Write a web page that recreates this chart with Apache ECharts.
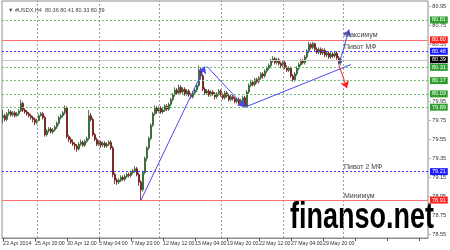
<!DOCTYPE html>
<html><head><meta charset="utf-8">
<script src="https://cdn.jsdelivr.net/npm/echarts@6/dist/echarts.min.js"></script>
<style>html,body{margin:0;padding:0;background:#fff}#c{width:450px;height:250px}</style>
</head><body><div id="c"></div>
<script>
// ---- data ----
const timeLabels = ['23 Apr 2014','25 Apr 20:00','30 Apr 12:00','5 May 04:00','7 May 20:00','12 May 12:00','15 May 04:00','19 May 20:00','22 May 12:00','27 May 04:00','29 May 20:00'];
const opens = [
79.78,79.80,79.76,79.82,79.84,79.81,79.83,79.80,79.82,79.85,
79.93,79.86,79.84,79.82,79.80,79.78,79.76,79.73,79.75,79.80,
79.82,79.78,79.60,79.64,79.66,79.63,79.65,79.68,79.72,79.78,
79.80,79.83,79.88,79.58,79.55,79.52,79.50,79.48,79.45,79.50,
79.52,79.49,79.53,79.56,79.80,79.76,79.60,79.55,79.50,79.52,
79.49,79.51,79.48,79.50,79.52,79.46,79.18,79.12,79.10,79.12,
79.15,79.13,79.16,79.18,79.17,79.20,79.22,79.24,79.18,79.10,
79.02,79.20,79.35,79.46,79.56,79.70,79.82,79.88,79.85,79.88,
79.84,79.86,79.90,79.87,79.92,79.97,80.02,80.07,80.04,80.10,
80.05,80.08,80.03,80.06,80.02,80.00,80.04,80.07,80.12,80.28,
80.22,80.08,80.04,80.06,80.02,80.05,80.03,80.00,80.03,80.06,
80.02,79.99,80.04,80.01,79.97,80.00,79.98,79.95,79.97,79.93,
79.96,79.99,79.90,80.05,80.12,80.15,80.13,80.18,80.16,80.20,
80.24,80.22,80.27,80.30,80.33,80.38,80.40,80.36,80.39,80.35,
80.33,80.36,80.31,80.28,80.30,80.22,80.18,80.24,80.30,80.34,
80.38,80.36,80.42,80.48,80.55,80.52,80.56,80.50,80.47,80.50,
80.46,80.49,80.44,80.46,80.42,80.45,80.43,80.46,80.41,80.36];
const closes = [
79.80,79.76,79.82,79.84,79.81,79.83,79.80,79.82,79.85,79.93,
79.86,79.84,79.82,79.80,79.78,79.76,79.73,79.75,79.80,79.82,
79.78,79.60,79.64,79.66,79.63,79.65,79.68,79.72,79.78,79.80,
79.83,79.88,79.58,79.55,79.52,79.50,79.48,79.45,79.50,79.52,
79.49,79.53,79.56,79.80,79.76,79.60,79.55,79.50,79.52,79.49,
79.51,79.48,79.50,79.52,79.46,79.18,79.12,79.10,79.12,79.15,
79.13,79.16,79.18,79.17,79.20,79.22,79.24,79.18,79.10,79.02,
79.20,79.35,79.46,79.56,79.70,79.82,79.88,79.85,79.88,79.84,
79.86,79.90,79.87,79.92,79.97,80.02,80.07,80.04,80.10,80.05,
80.08,80.03,80.06,80.02,80.00,80.04,80.07,80.12,80.28,80.22,
80.08,80.04,80.06,80.02,80.05,80.03,80.00,80.03,80.06,80.02,
79.99,80.04,80.01,79.97,80.00,79.98,79.95,79.97,79.93,79.96,
79.99,79.90,80.05,80.12,80.15,80.13,80.18,80.16,80.20,80.24,
80.22,80.27,80.30,80.33,80.38,80.40,80.36,80.39,80.35,80.33,
80.36,80.31,80.28,80.30,80.22,80.18,80.24,80.30,80.34,80.38,
80.36,80.42,80.48,80.55,80.52,80.56,80.50,80.47,80.50,80.46,
80.49,80.44,80.46,80.42,80.45,80.43,80.46,80.41,80.36,80.39];
const lows = [
79.72,79.74,79.74,79.80,79.79,79.79,79.78,79.79,79.80,79.84,
79.84,79.82,79.80,79.78,79.76,79.73,79.70,79.71,79.74,79.79,
79.76,79.58,79.58,79.62,79.61,79.61,79.63,79.66,79.70,79.76,
79.78,79.81,79.56,79.52,79.50,79.48,79.44,79.42,79.43,79.48,
79.47,79.47,79.51,79.54,79.74,79.58,79.53,79.48,79.48,79.46,
79.47,79.46,79.46,79.48,79.44,79.15,79.08,79.07,79.08,79.10,
79.11,79.11,79.14,79.15,79.15,79.18,79.20,79.16,79.06,78.91,
79.00,79.18,79.32,79.44,79.54,79.68,79.80,79.82,79.83,79.82,
79.82,79.84,79.85,79.85,79.90,79.95,80.00,80.02,80.02,80.03,
80.03,80.01,80.01,80.00,79.98,79.98,80.02,80.05,80.10,80.18,
80.06,80.02,80.02,80.00,80.00,80.01,79.97,79.98,80.01,80.00,
79.97,79.97,79.99,79.95,79.95,79.96,79.93,79.93,79.91,79.91,
79.94,79.89,79.89,80.03,80.10,80.11,80.11,80.14,80.14,80.18,
80.19,80.20,80.25,80.28,80.31,80.36,80.34,80.34,80.33,80.30,
80.31,80.29,80.26,80.26,80.20,80.16,80.16,80.22,80.28,80.32,
80.34,80.34,80.40,80.46,80.50,80.50,80.48,80.45,80.45,80.44,
80.44,80.42,80.42,80.40,80.40,80.41,80.41,80.39,80.34,80.33];
const highs = [
79.86,79.82,79.84,79.87,79.86,79.85,79.85,79.84,79.87,79.97,
79.95,79.88,79.86,79.84,79.82,79.80,79.78,79.77,79.82,79.84,
79.84,79.80,79.66,79.68,79.68,79.67,79.70,79.74,79.80,79.82,
79.85,79.91,79.90,79.60,79.57,79.55,79.52,79.50,79.52,79.55,
79.54,79.55,79.58,79.86,79.83,79.78,79.62,79.57,79.54,79.54,
79.53,79.53,79.52,79.54,79.54,79.48,79.20,79.14,79.14,79.17,
79.17,79.18,79.20,79.20,79.22,79.24,79.27,79.26,79.20,79.12,
79.22,79.37,79.48,79.58,79.72,79.84,79.91,79.90,79.90,79.90,
79.88,79.92,79.92,79.94,79.99,80.04,80.10,80.09,80.13,80.12,
80.10,80.10,80.08,80.08,80.04,80.06,80.09,80.14,80.33,80.31,
80.24,80.10,80.08,80.08,80.07,80.07,80.05,80.05,80.08,80.08,
80.04,80.06,80.06,80.03,80.02,80.02,80.00,79.99,79.99,79.98,
80.01,80.01,80.07,80.14,80.18,80.17,80.20,80.20,80.22,80.26,
80.26,80.29,80.32,80.35,80.40,80.43,80.42,80.41,80.41,80.37,
80.38,80.38,80.33,80.32,80.32,80.24,80.26,80.32,80.36,80.40,
80.40,80.44,80.50,80.58,80.57,80.58,80.57,80.52,80.52,80.52,
80.51,80.51,80.48,80.48,80.47,80.47,80.48,80.48,80.43,80.41];
const slotCount = 213;           // bar slots across the chart (incl. right shift)
const labelEvery = 16;           // bars between time labels
const gridBars = [17, 48, 78, 109, 140, 170];
const priceTicks = ['80.95','80.75','80.55','79.95','79.75','79.55','79.35','79.15','78.95','78.75','78.55'];
const levelValues = [80.81, 80.60, 80.48, 80.39, 80.31, 80.17, 80.03, 79.89, 79.21, 78.91];
const levelKinds  = ['green','red','blue','price','green','green','green','green','blue','red'];
const levelNames = [['Максимум', 80.60], ['Пивот МФ', 80.48], ['Пивот 2 МФ', 79.21], ['Минимум', 78.91]];
const trendLines = [
  {from:[69, 78.91], to:[101, 80.32], color:'#4a4af0', arrow:true},
  {from:[102, 80.32], to:[121, 79.89], color:'#4a4af0', arrow:true},
  {from:[121, 79.89], to:[174, 80.34], color:'#4a4af0', arrow:false},
  {from:[168, 80.34], to:[173, 80.71], color:'#4a4af0', arrow:true},
  {from:[168, 80.33], to:[172, 80.09], color:'#ff2020', arrow:true}
];
const header = '#USDX,H4  80.36 80.41 80.33 80.39';

// ---- build ----
const cats = [];
for (let i = 0; i < slotCount; i++) cats.push(String(i));
const candles = opens.map((o, i) => [o, closes[i], lows[i], highs[i]]);
const clear = 'rgba(0,0,0,0)';
const styles = {
  green: {line:{color:'#6cc06c', type:[2,2], width:1}, box:'#2e9e2e'},
  red:   {line:{color:'#ff7070', type:'solid', width:1}, box:'#ff2020'},
  blue:  {line:{color:'#3b3bff', type:[2,2], width:1}, box:'#1a1aff'},
  price: {line:{color:'#c8c8c8', type:'solid', width:1}, box:'#000000'}
};
const ml = [];
priceTicks.forEach(t => ml.push({yAxis: parseFloat(t), lineStyle:{color:clear},
  label:{show:true, position:'end', formatter:'- ' + t, fontSize:5.5, color:'#333', distance:1, fontFamily:'Liberation Sans'}}));
levelValues.forEach((v, i) => {
  const s = styles[levelKinds[i]];
  ml.push({yAxis: v, lineStyle: s.line,
    label:{show:true, position:'end', formatter:v.toFixed(2), fontSize:5.5, color:'#fff', backgroundColor:s.box,
      padding:[1,2,0,2], distance:2, fontFamily:'Liberation Sans'}});
});
gridBars.forEach(b => ml.push({xAxis: String(b), lineStyle:{color:'#9a9a9a', type:[2,2], width:1}, label:{show:false}}));
levelNames.forEach(([n, v]) => ml.push([
  {coord:[String(170), v], lineStyle:{color:clear}, label:{show:true, position:'insideStartTop', formatter:n, fontSize:7, color:'#444', distance:1, fontFamily:'Liberation Sans'}},
  {coord:[String(210), v]}
]));
trendLines.forEach(t => ml.push([
  {coord:[String(t.from[0]), t.from[1]], symbol:'none', lineStyle:{color:t.color, type:'solid', width:1}, label:{show:false}},
  {coord:[String(t.to[0]), t.to[1]], symbol: t.arrow ? 'arrow' : 'none', symbolSize: t.arrow ? 7 : 0}
]));

const chart = echarts.init(document.getElementById('c'), null, {renderer:'canvas'});
chart.setOption({
  animation:false,
  backgroundColor:'#fff',
  grid:{left:2, right:22, top:1, bottom:12, show:true, borderColor:'#8c8c8c', borderWidth:1},
  title:{text:'▼ ' + header, left:3, top:2, textStyle:{fontSize:5.5, fontWeight:'normal', color:'#444', fontFamily:'Liberation Sans'}},
  xAxis:{type:'category', data:cats, boundaryGap:true,
    axisLine:{show:true, lineStyle:{color:'#8c8c8c'}},
    axisTick:{show:true, alignWithLabel:true, interval:(i)=> i % labelEvery === 0, length:3, lineStyle:{color:'#555'}},
    axisLabel:{show:true, showMinLabel:true, hideOverlap:false, interval:(i)=> i % labelEvery === 0,
      formatter:(v, i)=> timeLabels[i / labelEvery] || '',
      fontSize:5.2, color:'#333', align:'left', margin:3, fontFamily:'Liberation Sans'},
    splitLine:{show:false}},
  yAxis:{type:'value', position:'right', min:78.51, max:81.01, scale:true,
    axisLine:{show:false}, axisTick:{show:false}, axisLabel:{show:false}, splitLine:{show:false}},
  series:[{
    type:'candlestick', data:candles, barWidth:2,
    itemStyle:{color:'#2f7a2f', color0:'#9b1414', borderColor:'#2a5a2a', borderColor0:'#6a1010', borderWidth:0.8},
    markLine:{silent:true, symbol:'none', animation:false, precision:2, data:ml}
  }],
  graphic:[{type:'text', left:290, top:199, scaleY:1.4, originY:0,
    style:{text:'finanso.net', font:'bold 27px "Liberation Sans"', fill:'#000'}}]
});
</script></body></html>
